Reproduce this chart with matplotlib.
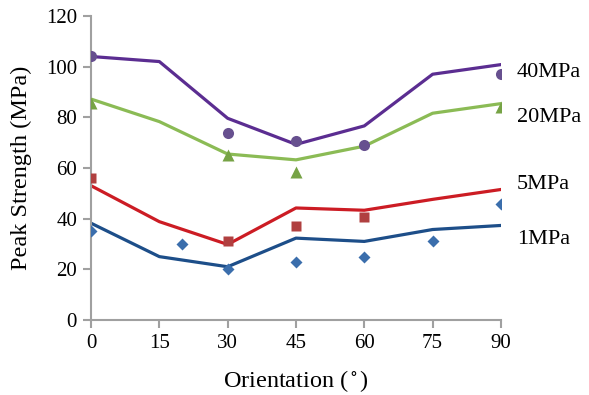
import matplotlib.pyplot as plt

# orientation angles (degrees)
angles = [0, 15, 30, 45, 60, 75, 90]

# model curves, peak strength (MPa)
fit_40 = [104, 102, 79.6, 69.3, 76.6, 97, 100.8]
fit_20 = [87.2, 78.3, 65.5, 63.2, 68.6, 81.6, 85.4]
fit_5 = [53.0, 38.8, 29.8, 44.2, 43.3, 47.6, 51.5]
fit_1 = [38.2, 25.0, 21.0, 32.3, 31.0, 35.7, 37.3]

# test data
ang_40 = [0, 30, 45, 60, 90]
pts_40 = [104, 73.8, 70.5, 69, 97]
ang_20 = [0, 30, 45, 90]
pts_20 = [85.8, 65, 58.5, 84]
ang_5 = [0, 30, 45, 60]
pts_5 = [56, 31.2, 37, 40.5]
ang_1 = [0, 20, 30, 45, 60, 75, 90]
pts_1 = [35.3, 29.8, 20.3, 23.0, 24.7, 31.0, 45.8]

labels = ["40MPa", "20MPa", "5MPa", "1MPa"]
label_y = [97.8, 80.1, 53.3, 31.6]

plt.rcParams["font.family"] = ["Liberation Serif", "DejaVu Serif"]
plt.rcParams["mathtext.fontset"] = "stix"

fig = plt.figure(figsize=(5.89, 3.95), dpi=100)
ax = fig.add_axes([0.1545, 0.19, 0.696, 0.7696])

lw = 2.3
ax.plot(angles, fit_40, color="#5b2d91", lw=lw, zorder=2)
ax.plot(angles, fit_20, color="#8bbb55", lw=lw, zorder=2)
ax.plot(angles, fit_5, color="#cc1c24", lw=lw, zorder=2)
ax.plot(angles, fit_1, color="#1d4e89", lw=lw, zorder=2)

ax.plot(ang_40, pts_40, "o", color="#67508f", ms=8, mec="none", zorder=3)
ax.plot(ang_20, pts_20, "^", color="#76a345", ms=8.5, mec="none", zorder=3)
ax.plot(ang_5, pts_5, "s", color="#b04040", ms=7.5, mec="none", zorder=3)
ax.plot(ang_1, pts_1, "D", color="#3b6eac", ms=6.5, mec="none", zorder=3)

for txt, yv in zip(labels, label_y):
    ax.text(93.5, yv, txt, fontsize=16, va="center", ha="left", clip_on=False)

ax.set_xlim(0, 90)
ax.set_ylim(0, 120)
ax.set_xticks(angles)
ax.set_yticks(range(0, 121, 20))
ax.tick_params(labelsize=15, color="#a0a0a0", width=1.5, length=6, pad=4)
for side in ["top", "right"]:
    ax.spines[side].set_visible(False)
for side in ["left", "bottom"]:
    ax.spines[side].set_color("#a0a0a0")
    ax.spines[side].set_linewidth(1.5)

ax.set_xlabel("Orientation ($^\\circ$)", fontsize=17.5, labelpad=11)
ax.set_ylabel("Peak Strength (MPa)", fontsize=17.5, labelpad=10)

fig.savefig("out.png", dpi=100)
